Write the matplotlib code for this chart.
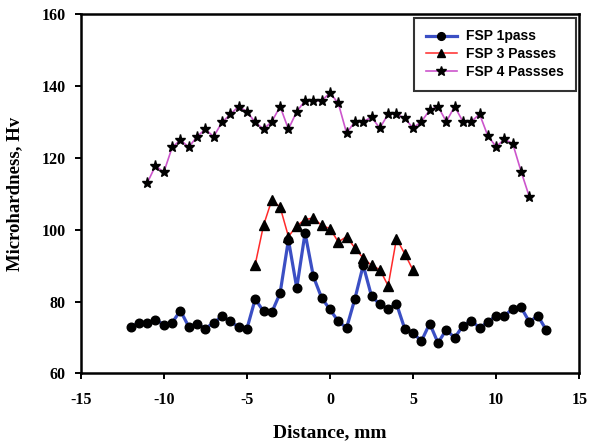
import numpy as np
import matplotlib
matplotlib.use("Agg")
import matplotlib.pyplot as plt

# ---- data ----
x_1pass = np.arange(-12, 13.01, 0.5)
hv_1pass = [73, 74, 74, 75, 73.6, 74.1, 77.5, 73, 73.8, 72.5,
            74.1, 75.9, 74.5, 72.9, 72.4, 80.7, 77.3, 77, 82.4, 97.2,
            83.8, 99.1, 87, 81, 77.8, 74.5, 72.7, 80.8, 90.1, 81.5,
            79.2, 78, 79.4, 72.4, 71.3, 69, 73.9, 68.5, 72.2, 69.9,
            73.3, 74.7, 72.7, 74.3, 76.1, 76.1, 78, 78.4, 74.3, 76.1, 72.2]

x_3pass = np.arange(-4.5, 5.01, 0.5)
hv_3pass = [90.3, 101.2, 108.3, 106.3, 98.1, 101.1, 102.8, 103.3, 101.2, 100.3,
            96.6, 98.1, 94.9, 92.1, 90.1, 88.9, 84.4, 97.5, 93.3, 88.7]

x_4pass = np.arange(-11, 12.01, 0.5)
hv_4pass = [113.0, 117.8, 116.0, 122.9, 125, 123, 125.9, 128, 125.9, 129.9,
            132.1, 134.3, 132.9, 129.9, 128, 130.1, 134.3, 128, 132.9, 135.9,
            135.9, 135.9, 138.1, 135.2, 126.9, 130.1, 130.1, 131.3, 128.3, 132.2,
            132.2, 131, 128.3, 130.1, 133.3, 134.3, 130.1, 134.3, 130.1, 130.1,
            132.2, 126.1, 123.1, 125.2, 123.9, 116.2, 109.1]

labels = ["FSP 1pass", "FSP 3 Passes", "FSP 4 Passses"]
xticks = [-15, -10, -5, 0, 5, 10, 15]
yticks = [60, 80, 100, 120, 140, 160]

fig = plt.figure(figsize=(5.89, 4.43), dpi=100)
ax = fig.add_axes([0.137, 0.157, 0.8465, 0.811])

ax.plot(x_1pass, hv_1pass, color="#3B4FC4", lw=2.3, marker="o", ms=6.2,
        mfc="black", mec="black", label=labels[0], zorder=3)
ax.plot(x_3pass, hv_3pass, color="#FF2A2A", lw=1.1, marker="^", ms=6.5,
        mfc="black", mec="black", label=labels[1], zorder=4)
ax.plot(x_4pass, hv_4pass, color="#CC55CC", lw=1.2, marker="*", ms=8,
        mfc="black", mec="black", label=labels[2], zorder=3)

ax.set_xlim(-15, 15)
ax.set_ylim(60, 160)
ax.set_xticks(xticks)
ax.set_yticks(yticks)

serif = {"family": "Liberation Serif", "weight": "bold"}
ax.set_xticklabels([str(t) for t in xticks], fontdict={**serif, "size": 11.5})
ax.set_yticklabels([str(t) for t in yticks], fontdict={**serif, "size": 11.5})
ax.tick_params(axis="x", direction="out", length=4, width=1.4, pad=9)
ax.tick_params(axis="y", direction="out", length=4, width=1.4, pad=7)
for s in ax.spines.values():
    s.set_linewidth(1.8)

ax.set_xlabel("Distance, mm", fontdict={**serif, "size": 14}, labelpad=12)
ax.set_ylabel("Microhardness, Hv", fontdict={**serif, "size": 13.5}, labelpad=13)

leg = ax.legend(loc="upper right", fancybox=False, shadow=False,
                prop={"family": "Liberation Sans", "weight": "bold", "size": 10},
                labelspacing=0.28, handlelength=2.25, handletextpad=0.65,
                borderpad=0.85, borderaxespad=0.25, markerscale=0.9)
leg.get_frame().set_edgecolor("black")
leg.get_frame().set_linewidth(1.5)

fig.savefig("out.png", dpi=100)
